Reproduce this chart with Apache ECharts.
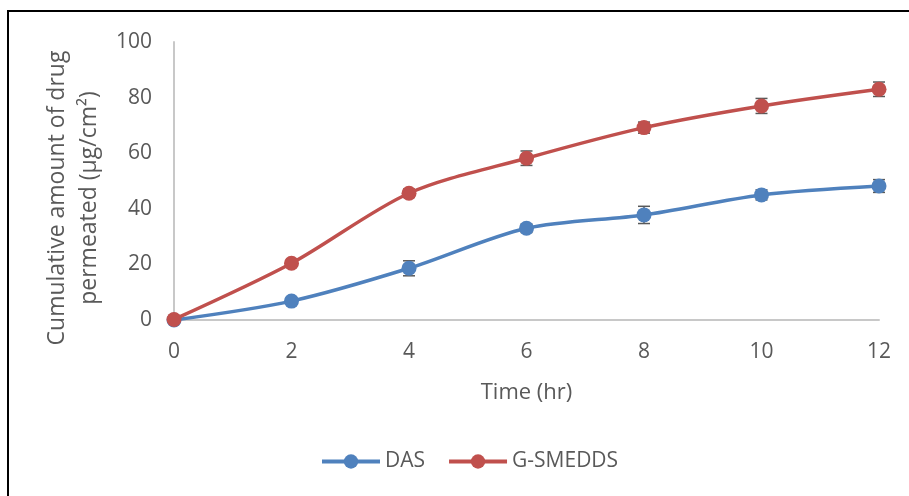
<!DOCTYPE html>
<html>
<head>
    <title>Cumulative amount of drug permeated</title>
    <style>
        body {
            margin: 0;
            background: #ffffff;
        }

        #chart {
            width: 909px;
            height: 496px;
        }
    </style>
    <script src="https://cdn.jsdelivr.net/npm/echarts@6/dist/echarts.min.js"></script>
</head>
<body>
    <div id="chart"></div>

    <script>
        var times = [0, 2, 4, 6, 8, 10, 12];
        var dasValues = [0, 6.8, 18.6, 33.0, 37.8, 45.0, 48.2];
        var dasErrors = [0, 1, 2.7, 1.5, 3.1, 1.8, 2.3];
        var smeddsValues = [0.2, 20.4, 45.6, 58.2, 69.2, 77.0, 83.0];
        var smeddsErrors = [0, 1, 1.5, 2.6, 2, 2.7, 2.6];

        var font = 'Open Sans';
        var textColor = '#595959';

        function pairs(values) {
            return times.map(function (t, i) {
                return [t, values[i]];
            });
        }

        function errorData(values, errors) {
            return times.map(function (t, i) {
                return [t, values[i] - errors[i], values[i] + errors[i]];
            });
        }

        function renderError(params, api) {
            var low = api.coord([api.value(0), api.value(1)]);
            var high = api.coord([api.value(0), api.value(2)]);
            var style = { stroke: '#595959', lineWidth: 1.5 };
            return {
                type: 'group',
                children: [
                    { type: 'line', shape: { x1: low[0], y1: low[1], x2: high[0], y2: high[1] }, style: style },
                    { type: 'line', shape: { x1: low[0] - 6, y1: low[1], x2: low[0] + 6, y2: low[1] }, style: style },
                    { type: 'line', shape: { x1: high[0] - 6, y1: high[1], x2: high[0] + 6, y2: high[1] }, style: style }
                ]
            };
        }

        var myChart = echarts.init(document.getElementById('chart'));

        var option = {
            animation: false,
            graphic: [{
                type: 'rect',
                shape: { x: 8, y: 11, width: 920, height: 500 },
                style: { fill: 'none', stroke: '#000000', lineWidth: 2 },
                silent: true
            }],
            grid: {
                left: 174,
                right: 30,
                top: 42,
                bottom: 176
            },
            legend: {
                left: 315,
                top: 446,
                itemWidth: 58,
                itemHeight: 18,
                itemGap: 22,
                lineStyle: { width: 4 },
                textStyle: { fontFamily: font, fontSize: 21, color: textColor },
                data: ['DAS', 'G-SMEDDS']
            },
            xAxis: {
                type: 'value',
                min: 0,
                max: 12,
                interval: 2,
                name: 'Time (hr)',
                nameLocation: 'middle',
                nameGap: 62,
                nameTextStyle: { fontFamily: font, fontSize: 22, color: textColor },
                axisLine: { lineStyle: { color: '#c8c8c8', width: 2 } },
                axisTick: { show: false },
                axisLabel: { fontFamily: font, fontSize: 21, color: textColor, margin: 22 },
                splitLine: { show: false }
            },
            yAxis: {
                type: 'value',
                min: 0,
                max: 100,
                interval: 20,
                name: 'Cumulative amount of drug\npermeated (μg/cm²)',
                nameLocation: 'middle',
                nameRotate: 90,
                nameGap: 60,
                nameTextStyle: {
                    fontFamily: font,
                    fontSize: 23,
                    lineHeight: 32,
                    color: textColor,
                    padding: [0, 34, 0, 0]
                },
                axisLine: { show: true, lineStyle: { color: '#c8c8c8', width: 2 } },
                axisTick: { show: false },
                axisLabel: { fontFamily: font, fontSize: 21, color: textColor, margin: 22 },
                splitLine: { show: false }
            },
            series: [
                {
                    name: 'DAS',
                    type: 'line',
                    smooth: 0.3,
                    data: pairs(dasValues),
                    symbol: 'circle',
                    symbolSize: 15,
                    itemStyle: { color: '#4f81bd' },
                    lineStyle: { width: 3.5, color: '#4f81bd' },
                    z: 3
                },
                {
                    name: 'G-SMEDDS',
                    type: 'line',
                    smooth: 0.3,
                    data: pairs(smeddsValues),
                    symbol: 'circle',
                    symbolSize: 15,
                    itemStyle: { color: '#c0504d' },
                    lineStyle: { width: 3.5, color: '#c0504d' },
                    z: 3
                },
                {
                    type: 'custom',
                    renderItem: renderError,
                    data: errorData(dasValues, dasErrors),
                    encode: { x: 0, y: [1, 2] },
                    z: 2
                },
                {
                    type: 'custom',
                    renderItem: renderError,
                    data: errorData(smeddsValues, smeddsErrors),
                    encode: { x: 0, y: [1, 2] },
                    z: 2
                }
            ]
        };

        myChart.setOption(option);
    </script>
</body>
</html>
